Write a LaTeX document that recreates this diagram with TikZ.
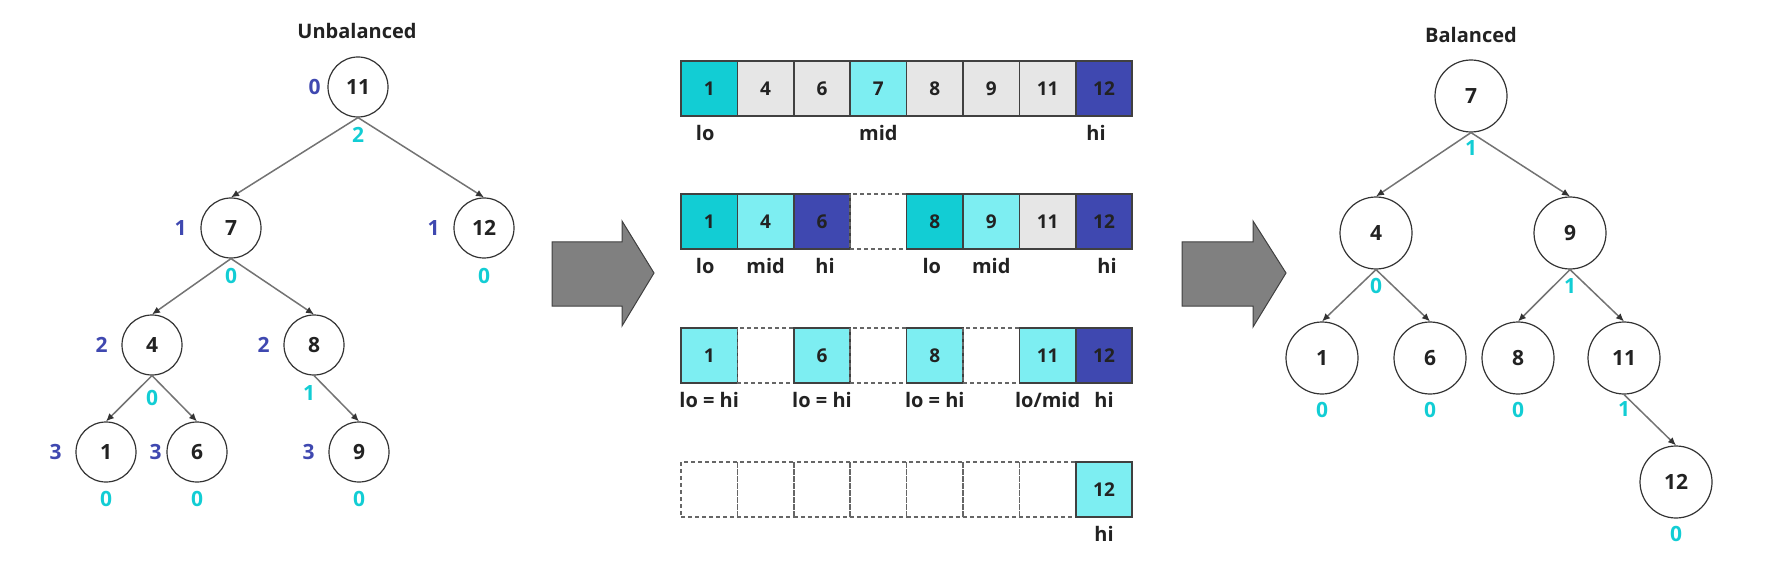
\documentclass[tikz,border=0pt]{standalone}
\usepackage{fontspec}
\setmainfont{Open Sans}
\usepackage{xcolor}
\usepackage{tikz}
\usetikzlibrary{positioning,arrows.meta}

\definecolor{tealdk}{HTML}{12CDD4}
\definecolor{teallt}{HTML}{7DEEF2}
\definecolor{navy}{HTML}{3F48B0}
\definecolor{cellgr}{HTML}{E6E6E6}
\definecolor{inkc}{HTML}{222222}

\begin{document}
\begin{tikzpicture}[x=0.5pt,y=-0.5pt,
    tnode/.style={circle,draw=black!80,line width=0.6pt,minimum size=30pt,inner sep=0pt,
        text=inkc,font=\bfseries\fontsize{10.5}{12}\selectfont},
    bnode/.style={tnode,minimum size=36pt},
    edge/.style={draw=black!55,line width=0.75pt,-{Latex[length=4pt,width=3.5pt,color=black!80]}},
    dep/.style={inner sep=0pt,text=navy,font=\bfseries\fontsize{10.5}{12}\selectfont},
    bal/.style={inner sep=0pt,text=tealdk,font=\bfseries\fontsize{10.5}{12}\selectfont},
    title/.style={inner sep=0pt,text=inkc,font=\bfseries\fontsize{10}{12}\selectfont},
    lbl/.style={inner sep=0pt,text=inkc,font=\bfseries\fontsize{10}{12}\selectfont},
    cell/.style={rectangle,draw=black!75,line width=0.75pt,minimum width=28.2pt,minimum height=27.5pt,
        inner sep=0pt,text=inkc,font=\bfseries\fontsize{9.5}{11}\selectfont},
    celllo/.style={cell,fill=tealdk},
    cellmid/.style={cell,fill=teallt},
    cellhi/.style={cell,fill=navy},
    cellgray/.style={cell,fill=cellgr},
    cellnone/.style={cell,draw=black!60,dash pattern=on 2pt off 1.5pt},
    bigarrow/.style={fill=black!50,draw=black!75,line width=0.5pt}]

    \useasboundingbox (0,0) rectangle (1787,572);

    % Unbalanced tree
    \node[title] (tun) at (357,31) {Unbalanced};
    \node[tnode] (u11) at (358,87) {11};
    \node[tnode] (u7) at (231,228) {7};
    \node[tnode] (u12) at (484,228) {12};
    \node[tnode] (u4) at (152,345) {4};
    \node[tnode] (u8) at (314,345) {8};
    \node[tnode] (u1) at (106,452) {1};
    \node[tnode] (u6) at (197,452) {6};
    \node[tnode] (u9) at (359,452) {9};

    \draw[edge] (u11.south) -- (u7.north);
    \draw[edge] (u11.south) -- (u12.north);
    \draw[edge] (u7.south) -- (u4.north);
    \draw[edge] (u7.south) -- (u8.north);
    \draw[edge] (u4.south) -- (u1.north);
    \draw[edge] (u4.south) -- (u6.north);
    \draw[edge] (u8.south) -- (u9.north);

    % depths
    \node[dep,left=3.25pt of u11] (du11) {0};
    \node[dep,left=6.75pt of u7] (du7) {1};
    \node[dep,left=6.75pt of u12] (du12) {1};
    \node[dep,left=6.75pt of u4] (du4) {2};
    \node[dep,left=6.75pt of u8] (du8) {2};
    \node[dep,left=6.75pt of u1] (du1) {3};
    \node[dep,left=2.25pt of u6] (du6) {3};
    \node[dep,left=6.75pt of u9] (du9) {3};

    % heights
    \node[bal,below=4.75pt of u11] (bu11) {2};
    \node[bal,below=4.75pt of u7] (bu7) {0};
    \node[bal,below=4.75pt of u12] (bu12) {0};
    \node[bal,below=7.25pt of u4] (bu4) {0};
    \node[bal,below=4.75pt of u8,xshift=-2.5pt] (bu8) {1};
    \node[bal,below=4.25pt of u1] (bu1) {0};
    \node[bal,below=4.25pt of u6] (bu6) {0};
    \node[bal,below=4.25pt of u9] (bu9) {0};

    % Arrows
    \draw[bigarrow] (552,242) -- (622,242) -- (622,221) -- (654,273) -- (622,326)
        -- (622,306) -- (552,306) -- cycle;
    \draw[bigarrow] (1182,242) -- (1253,242) -- (1253,221) -- (1286,273) -- (1253,327)
        -- (1253,306) -- (1182,306) -- cycle;

    % Array rows
    \foreach \v/\s [count=\i] in {1/lo,4/gray,6/gray,7/mid,8/gray,9/gray,11/gray,12/hi}
        \node[cell\s] (ra\i) at ({681+56.4*\i-28.2},88.5) {\v};
    \foreach \v/\s [count=\i] in {1/lo,4/mid,6/hi,/none,8/lo,9/mid,11/gray,12/hi}
        \node[cell\s] (rb\i) at ({681+56.4*\i-28.2},221.5) {\v};
    \foreach \v/\s [count=\i] in {1/mid,/none,6/mid,/none,8/mid,/none,11/mid,12/hi}
        \node[cell\s] (rc\i) at ({681+56.4*\i-28.2},355.5) {\v};
    \foreach \v/\s [count=\i] in {/none,/none,/none,/none,/none,/none,/none,12/mid}
        \node[cell\s] (rd\i) at ({681+56.4*\i-28.2},489.5) {\v};

    % Pointers
    \node[lbl,below=4pt of ra1,xshift=-2pt] (la1) {lo};
    \node[lbl,below=4pt of ra4] (la4) {mid};
    \node[lbl,below=4pt of ra8,xshift=-4pt] (la8) {hi};
    \node[lbl,below=4pt of rb1,xshift=-2pt] (lb1) {lo};
    \node[lbl,below=4pt of rb2] (lb2) {mid};
    \node[lbl,below=4pt of rb3,xshift=1.5pt] (lb3) {hi};
    \node[lbl,below=4pt of rb5,xshift=-1.5pt] (lb5) {lo};
    \node[lbl,below=4pt of rb6] (lb6) {mid};
    \node[lbl,below=4pt of rb8,xshift=1.5pt] (lb8) {hi};
    \node[lbl,below=4pt of rc1] (lc1) {lo = hi};
    \node[lbl,below=4pt of rc3] (lc3) {lo = hi};
    \node[lbl,below=4pt of rc5] (lc5) {lo = hi};
    \node[lbl,below=4pt of rc7] (lc7) {lo/mid};
    \node[lbl,below=4pt of rc8] (lc8) {hi};
    \node[lbl,below=4pt of rd8] (ld8) {hi};

    % Balanced tree
    \node[title] (tba) at (1471,35) {Balanced};
    \node[bnode] (b7) at (1471,96) {7};
    \node[bnode] (b4) at (1376,233) {4};
    \node[bnode] (b9) at (1570,233) {9};
    \node[bnode] (b1) at (1322,358) {1};
    \node[bnode] (b6) at (1430,358) {6};
    \node[bnode] (b8) at (1518,358) {8};
    \node[bnode] (b11) at (1624,358) {11};
    \node[bnode] (b12) at (1676,482) {12};

    \draw[edge] (b7.south) -- (b4.north);
    \draw[edge] (b7.south) -- (b9.north);
    \draw[edge] (b4.south) -- (b1.north);
    \draw[edge] (b4.south) -- (b6.north);
    \draw[edge] (b9.south) -- (b8.north);
    \draw[edge] (b9.south) -- (b11.north);
    \draw[edge] (b11.south) -- (b12.north);

    \node[bal,below=3.75pt of b7] (bb7) {1};
    \node[bal,below=4.25pt of b4] (bb4) {0};
    \node[bal,below=4.25pt of b9] (bb9) {1};
    \node[bal,below=3.5pt of b1] (bb1) {0};
    \node[bal,below=3.5pt of b6] (bb6) {0};
    \node[bal,below=3.5pt of b8] (bb8) {0};
    \node[bal,below=3.5pt of b11] (bb11) {1};
    \node[bal,below=3.5pt of b12] (bb12) {0};
\end{tikzpicture}
\end{document}
